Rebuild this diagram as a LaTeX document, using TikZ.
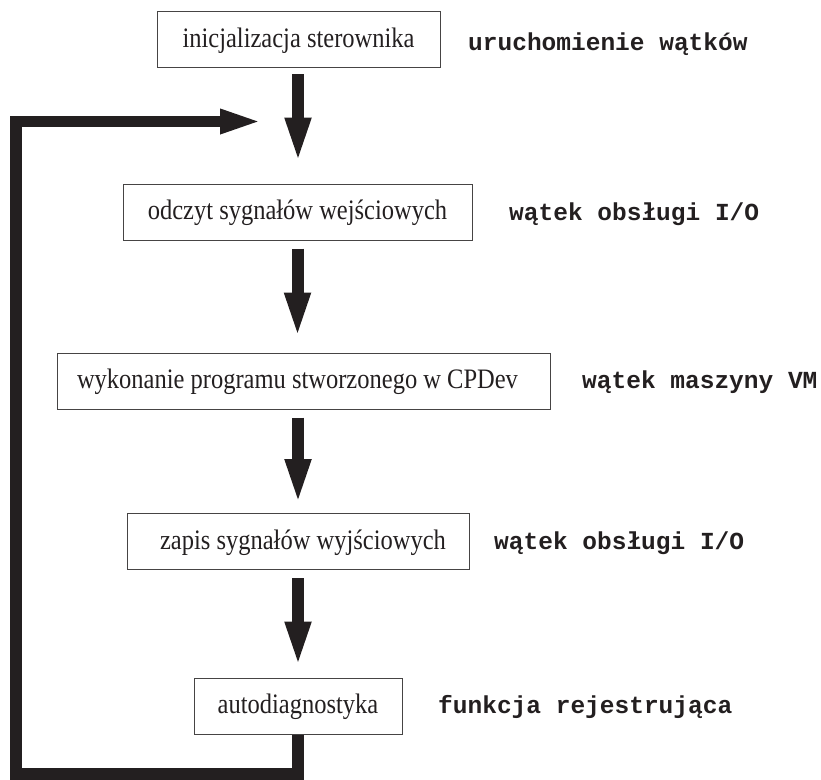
\documentclass[tikz,border=0pt]{standalone}
\usepackage{graphicx}
\usepackage{fontspec}
\setmainfont{Liberation Serif}
\setmonofont{Liberation Mono}
\usetikzlibrary{arrows.meta}
\definecolor{ink}{RGB}{35,31,32}
\definecolor{boxline}{RGB}{70,68,68}
\newcommand{\tallt}[1]{\scalebox{1}[1.15]{#1}}
\tikzset{
  stepbox/.style={draw=boxline, line width=1pt, fill=white, text=ink,
    font=\fontsize{24.5}{29}\selectfont, inner sep=0pt,
    text height=19.6pt, text depth=3.7pt, minimum height=56pt},
  threadlabel/.style={anchor=base west, text=ink, inner sep=0pt,
    font=\ttfamily\bfseries\fontsize{24.5}{29}\selectfont},
  flow/.style={draw=ink, line width=12pt, -{Triangle[width=23pt,length=47pt]}},
  loopflow/.style={draw=ink, line width=11.5pt, line join=miter,
    -{Triangle[width=22pt,length=43pt]}}
}
\begin{document}
\begin{tikzpicture}[x=1pt,y=-1pt]
\useasboundingbox (0,0) rectangle (821,779);

\node[stepbox, minimum width=283pt] (b1) at (298.5,39.5) {\tallt{inicjalizacja sterownika}};
\node[stepbox, minimum width=349pt] (b2) at (297.5,212) {\tallt{odczyt sygnałów wejściowych}};
\node[stepbox, minimum width=493pt] (b3) at (303.5,381) {\tallt{wykonanie programu stworzonego w CPDev}\hspace*{12pt}};
\node[stepbox, minimum width=342pt] (b4) at (298,541.5) {\tallt{zapis sygnałów wyjściowych}\hspace*{-10pt}};
\node[stepbox, minimum width=208pt] (b5) at (298,706) {\tallt{autodiagnostyka}};

\node[threadlabel] (l1) at (468,50) {uruchomienie wątków};
\node[threadlabel] (l2) at (509,220) {wątek obsługi I/O};
\node[threadlabel] (l3) at (582,388) {wątek maszyny VM};
\node[threadlabel] (l4) at (494,549) {wątek obsługi I/O};
\node[threadlabel] (l5) at (438,713) {funkcja rejestrująca};

\coordinate (loopend) at (263,121.5);
\coordinate (bl) at (16,774);
\coordinate (tl) at (16,121.5);

\draw[flow] ([xshift=-0.5pt,yshift=-6pt]b1.south) -- ([xshift=0.5pt,yshift=19pt]b2.north);
\draw[flow] ([yshift=-8pt]b2.south) -- ([yshift=13pt]b2.south |- b3.north);
\draw[flow] ([yshift=-8pt]b4.north |- b3.south) -- ([yshift=7pt]b4.north);
\draw[flow] ([yshift=-8pt]b4.south) -- ([yshift=9pt]b5.north);
\draw[loopflow] (b5.south) |- (bl) -- (tl) -- (loopend);
\end{tikzpicture}
\end{document}
